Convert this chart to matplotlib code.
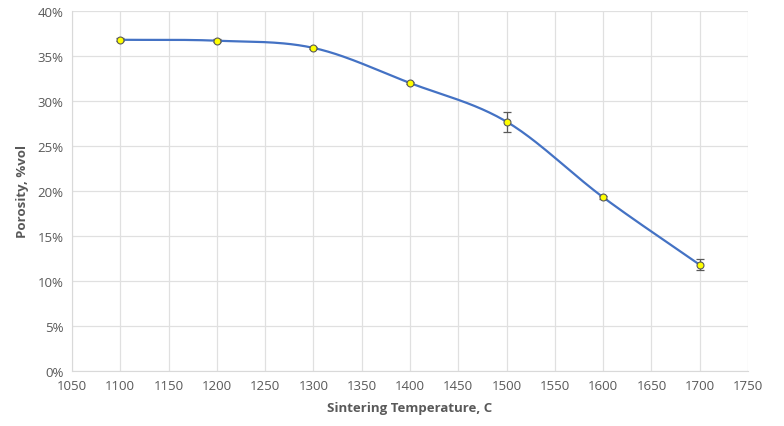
import numpy as np
import matplotlib
matplotlib.use('Agg')
from matplotlib import pyplot as plt
from matplotlib.ticker import PercentFormatter

temps = [1100, 1200, 1300, 1400, 1500, 1600, 1700]
porosity = [36.8, 36.7, 35.9, 32.0, 27.7, 19.3, 11.8]
errors = [0.15, 0.15, 0.1, 0.15, 1.1, 0.2, 0.6]


def smooth(x, y, n=40):
    # Catmull-Rom spline, like Excel's "smoothed line"
    x = np.asarray(x, float)
    y = np.asarray(y, float)
    px = np.concatenate(([2*x[0]-x[1]], x, [2*x[-1]-x[-2]]))
    py = np.concatenate(([2*y[0]-y[1]], y, [2*y[-1]-y[-2]]))
    xs, ys = [], []
    t = np.linspace(0, 1, n)
    for i in range(1, len(px)-2):
        for p, out in ((px, xs), (py, ys)):
            p0, p1, p2, p3 = p[i-1], p[i], p[i+1], p[i+2]
            out.extend(0.5*((2*p1) + (-p0+p2)*t + (2*p0-5*p1+4*p2-p3)*t**2
                            + (-p0+3*p1-3*p2+p3)*t**3))
    return np.array(xs), np.array(ys)


plt.rcParams['font.family'] = ['Open Sans', 'DejaVu Sans']
fig = plt.figure(figsize=(7.84, 4.27), dpi=100)
ax = fig.add_axes([72/784, 55/427, 676/784, 360/427])

sx, sy = smooth(temps, porosity)
ax.plot(sx, sy, color='#4472C4', lw=1.6, zorder=3)
ax.errorbar(temps, porosity, yerr=errors, fmt='none', ecolor='#595959',
            elinewidth=0.9, capsize=3, capthick=0.9, zorder=4)
ax.plot(temps, porosity, 'o', ms=5, mfc='#FFFF00', mec='#595959', mew=0.8, zorder=5)

ax.set_xlim(1050, 1750)
ax.set_ylim(0, 40)
ax.set_xticks(np.arange(1050, 1751, 50))
ax.set_yticks(np.arange(0, 41, 5))
ax.yaxis.set_major_formatter(PercentFormatter(decimals=0))
ax.grid(True, color='#E0E0E0', lw=0.9)
ax.set_axisbelow(True)
for s in ['top', 'right']:
    ax.spines[s].set_visible(False)
for s in ['left', 'bottom']:
    ax.spines[s].set_color('#D9D9D9')
ax.tick_params(length=0, colors='#595959', labelsize=9.5, pad=6)
ax.set_xlabel('Sintering Temperature, C', fontsize=9.5, fontweight='bold', color='#595959', labelpad=6)
ax.set_ylabel('Porosity, %vol', fontsize=9.5, fontweight='bold', color='#595959', labelpad=6)

plt.savefig('out.png', dpi=100)
